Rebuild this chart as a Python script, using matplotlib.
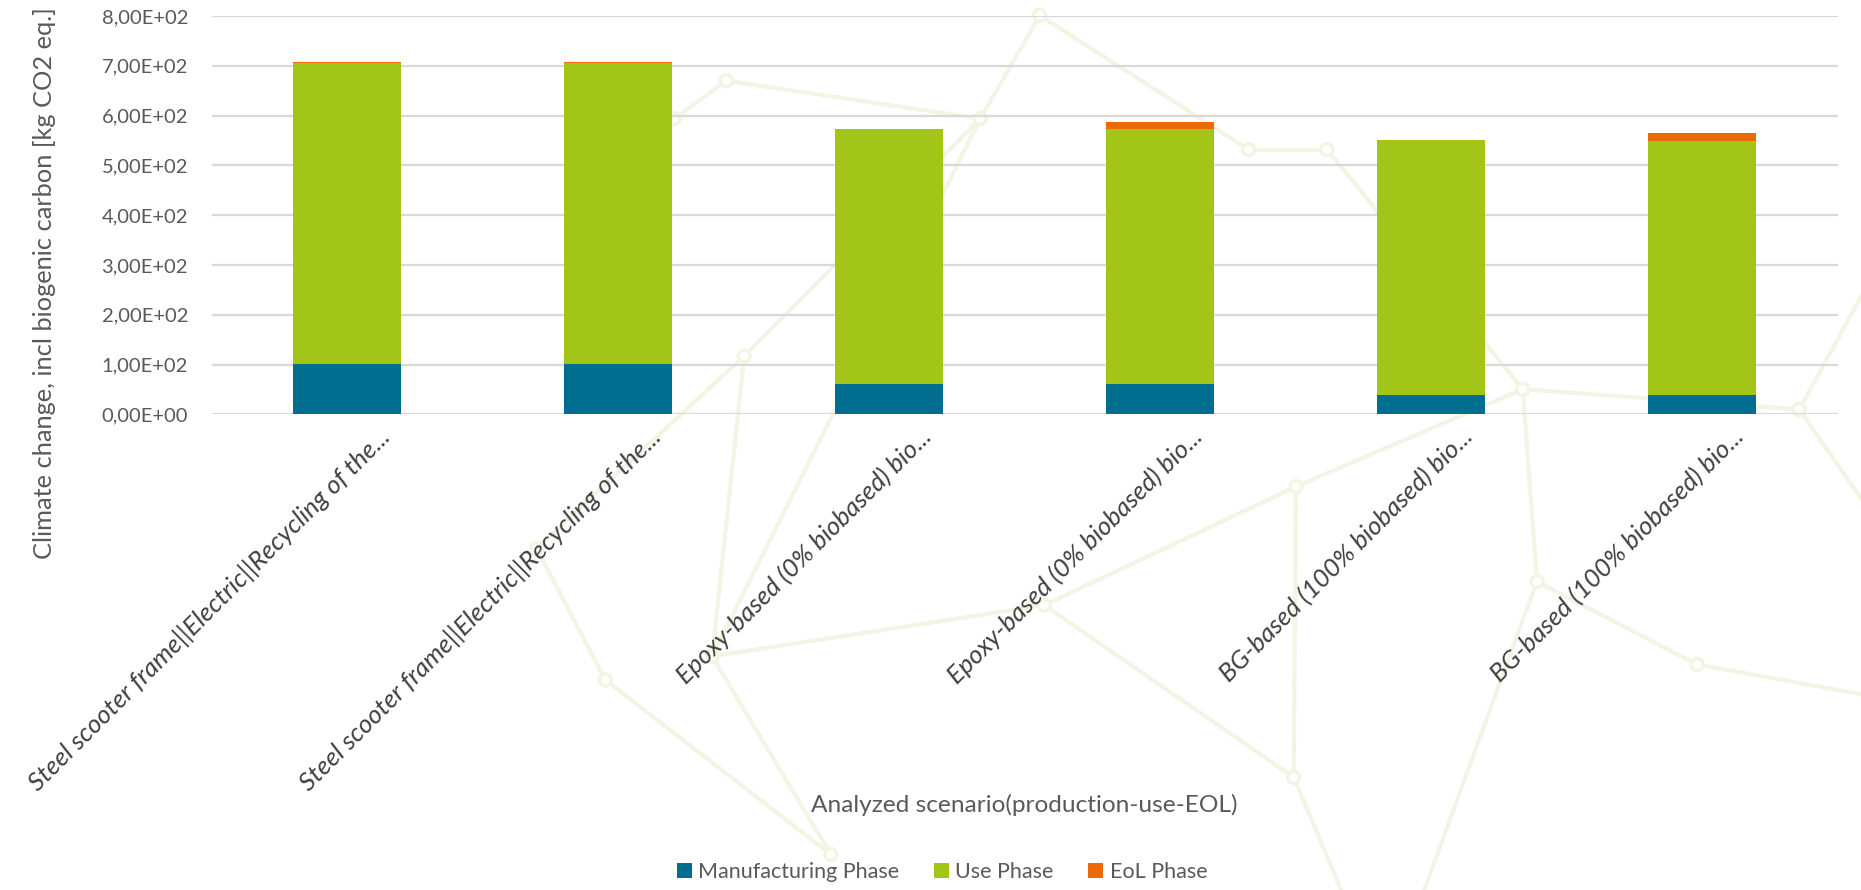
import numpy as np
import matplotlib
matplotlib.use("Agg")
import matplotlib.pyplot as plt
from matplotlib.ticker import MultipleLocator, FuncFormatter
from matplotlib.lines import Line2D
from matplotlib.patches import Circle
import matplotlib.transforms as mtransforms

# ---------------- data ----------------
categories = [
    "Steel scooter frame||Electric||Recycling of the...",
    "Steel scooter frame||Electric||Recycling of the...",
    "Epoxy-based (0% biobased) bio...",
    "Epoxy-based (0% biobased) bio...",
    "BG-based (100% biobased) bio...",
    "BG-based (100% biobased) bio...",
]
manufacturing = [100.2, 100.2, 61.8, 61.8, 39.4, 39.4]
use_phase = [604.7, 604.7, 510.5, 510.5, 510.6, 510.2]
eol_phase = [2.7, 2.0, 0.6, 14.6, 0.5, 14.5]
series_names = ["Manufacturing Phase", "Use Phase", "EoL Phase"]
colors = ["#006F8F", "#A3C517", "#EB6909"]

# decorative background network (positions in a 1568x750 view)
deco_nodes = {
    "A": (612, 68), "B": (876, 13), "C": (826, 100), "D": (1052, 126),
    "E": (1118, 126), "F": (568, 100), "G": (1283, 328), "H": (1516, 345),
    "I": (1092, 410), "J": (880, 510), "K": (600, 553), "L": (510, 573),
    "M": (452, 462), "N": (700, 720), "O": (1090, 655), "P": (1295, 490),
    "Q": (1430, 560), "S": (627, 300), "T": (1568, 420), "U": (1568, 585),
    "V": (1130, 750), "W": (1200, 750), "Y": (1568, 250),
}
deco_edges = [("F", "A"), ("A", "C"), ("B", "C"), ("C", "S"), ("C", "K"),
              ("D", "E"), ("E", "G"), ("G", "H"), ("G", "I"), ("I", "J"),
              ("J", "K"), ("K", "N"), ("J", "O"), ("I", "O"), ("G", "P"),
              ("P", "Q"), ("Q", "U"), ("L", "N"), ("M", "L"), ("S", "K"),
              ("H", "T"), ("O", "V"), ("P", "W"), ("S", "M"),
              ("H", "Y"), ("B", "D")]

# ---------------- figure ----------------
W, H = 1861, 890
fig = plt.figure(figsize=(W / 100, H / 100), dpi=100)
fig.patch.set_facecolor("white")

deco_color = "#F2F5E4"
def fxy(p):
    return p[0] / 1568, 1 - p[1] / 750
for a, b in deco_edges:
    (x0, y0), (x1, y1) = fxy(deco_nodes[a]), fxy(deco_nodes[b])
    fig.add_artist(Line2D([x0, x1], [y0, y1], transform=fig.transFigure,
                          color=deco_color, lw=3, zorder=-2))
for k, p in deco_nodes.items():
    x0, y0 = fxy(p)
    if 0 < x0 < 0.999 and 0.001 < y0 < 1:
        fig.add_artist(Circle((x0 * W, y0 * H), 6, transform=None,
                              facecolor="white", edgecolor=deco_color,
                              lw=2.5, zorder=-1))

left, right = 211.7 / W, 1837.7 / W
bottom, top = 1 - 414.3 / H, 1 - 16 / H
ax = fig.add_axes([left, bottom, right - left, top - bottom])
ax.set_facecolor("none")
ax.set_zorder(1)

fam = ["Lato", "DejaVu Sans"]
x = np.arange(len(categories))
mf = np.array(manufacturing)
us = np.array(use_phase)
eo = np.array(eol_phase)
ax.bar(x, mf, width=0.4, color=colors[0], label=series_names[0], zorder=3)
ax.bar(x, us, width=0.4, bottom=mf, color=colors[1], label=series_names[1], zorder=3)
ax.bar(x, eo, width=0.4, bottom=mf + us, color=colors[2], label=series_names[2], zorder=3)

ax.set_xlim(-0.5, len(categories) - 0.5)
ax.set_ylim(0, 800)
ax.yaxis.set_major_locator(MultipleLocator(100))
ax.yaxis.set_major_formatter(FuncFormatter(lambda v, p: f"{v:.2E}".replace(".", ",")))
ax.grid(axis="y", color="#D9D9D9", lw=1.6, zorder=0)
ax.set_axisbelow(True)
for s in ax.spines.values():
    s.set_visible(False)
ax.tick_params(axis="both", length=0)
ax.tick_params(axis="y", pad=17, labelsize=14.5, labelcolor="#595959")
for t in ax.get_yticklabels():
    t.set_family(fam)

ax.set_xticks(x)
ax.set_xticklabels(categories, rotation=45, ha="right", rotation_mode="anchor",
                   fontsize=18.5, color="#404040", style="italic", family=fam)
ax.tick_params(axis="x", pad=0)
offset = mtransforms.ScaledTranslation(30 / 100, -10 / 100, fig.dpi_scale_trans)
for t in ax.get_xticklabels():
    t.set_transform(t.get_transform() + offset)

fig.text(45 / W, 1 - 283 / H, "Climate change, incl biogenic carbon [kg CO2 eq.]",
         rotation=90, ha="center", va="center", fontsize=18.3, color="#595959",
         family=fam)
fig.text(1024 / W, 1 - 805 / H, "Analyzed scenario(production-use-EOL)",
         ha="center", va="center", fontsize=17.6, color="#595959", family=fam)

handles, labels = ax.get_legend_handles_labels()
leg = fig.legend(handles, labels, loc="center", bbox_to_anchor=(942 / W, 1 - 872 / H),
                 ncol=3, frameon=False, handlelength=0.7,
                 handleheight=0.7, handletextpad=0.3, columnspacing=1.6,
                 prop={"family": fam, "size": 15.5})
for t in leg.get_texts():
    t.set_color("#595959")

fig.savefig("out.png", dpi=100, facecolor="white")
